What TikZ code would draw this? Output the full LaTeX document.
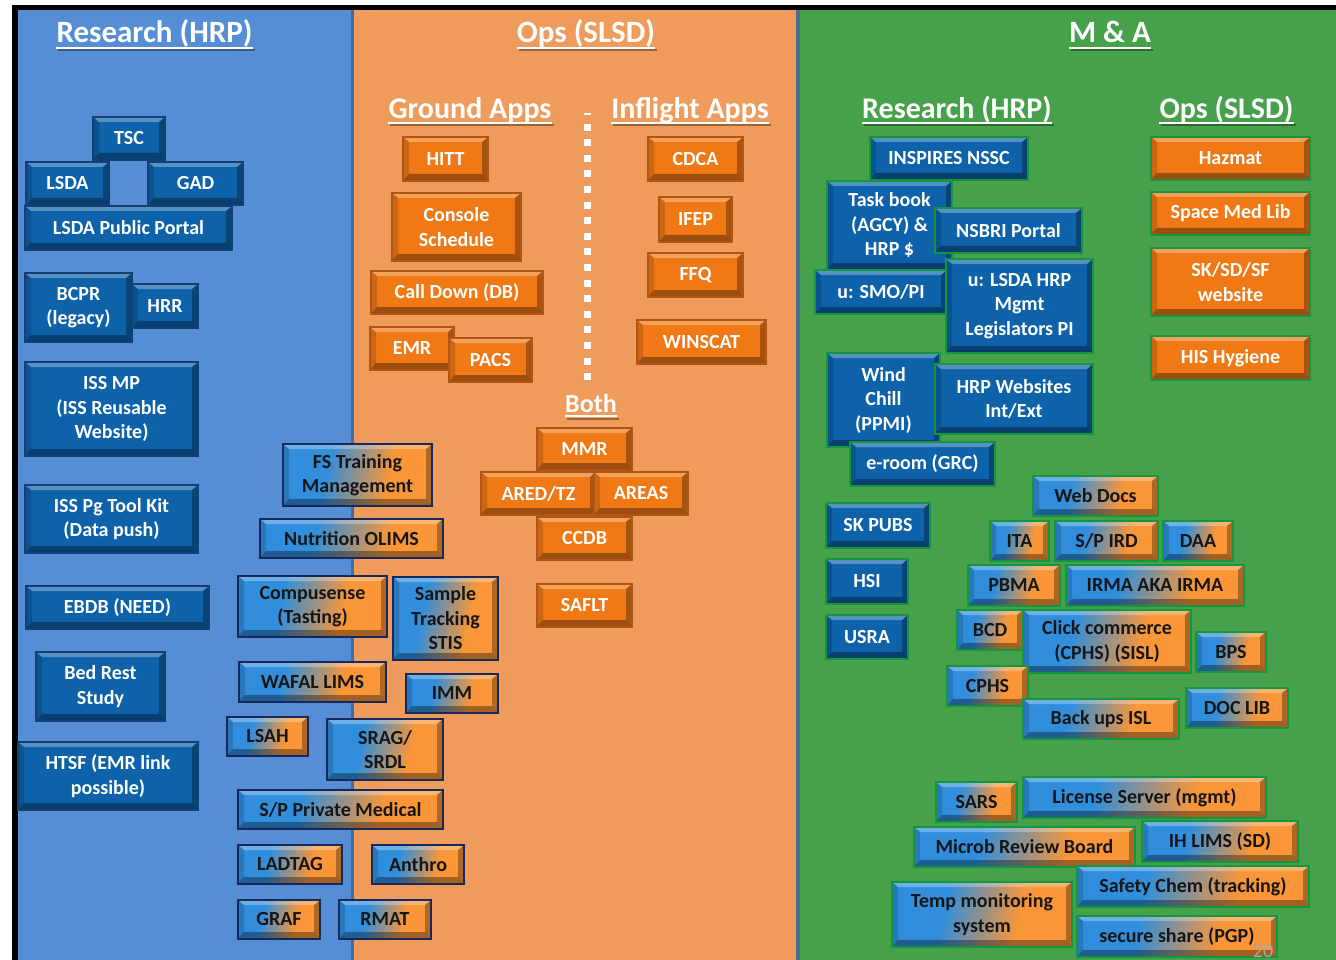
\documentclass[tikz,border=0pt]{standalone}
\usepackage{fontspec}
\setmainfont{Carlito}

\definecolor{panelblue}{RGB}{85,142,213}
\definecolor{panelorange}{RGB}{238,155,92}
\definecolor{panelgreen}{RGB}{71,160,74}
\definecolor{sepblue}{RGB}{58,110,168}
\definecolor{sepgrey}{RGB}{74,108,150}
\definecolor{boxblue}{RGB}{13,98,170}
\definecolor{boxorange}{RGB}{240,121,22}
\definecolor{edgeblue}{RGB}{22,62,118}
\definecolor{edgeorange}{RGB}{178,84,20}
\definecolor{edgegreen}{RGB}{18,150,62}
\definecolor{navy}{RGB}{22,40,92}
\definecolor{gradblue}{RGB}{48,142,220}
\definecolor{gradorange}{RGB}{250,150,55}
\definecolor{darktext}{RGB}{22,22,22}

\pgfdeclarehorizontalshading{mixshade}{100bp}{color(0bp)=(gradblue); color(38bp)=(gradblue); color(62bp)=(gradorange); color(100bp)=(gradorange)}

\tikzset{
  bevel/.style={path picture={
    \fill[white,opacity=.30] (path picture bounding box.north west) -- (path picture bounding box.north east)
      -- ([xshift=-6pt,yshift=-5pt]path picture bounding box.north east) -- ([xshift=6pt,yshift=-5pt]path picture bounding box.north west) -- cycle;
    \fill[black,opacity=.35] (path picture bounding box.south west) -- (path picture bounding box.south east)
      -- ([xshift=-6pt,yshift=7pt]path picture bounding box.south east) -- ([xshift=6pt,yshift=7pt]path picture bounding box.south west) -- cycle;
    \fill[black,opacity=.15] (path picture bounding box.north west) -- ([xshift=6pt,yshift=-5pt]path picture bounding box.north west)
      -- ([xshift=6pt,yshift=7pt]path picture bounding box.south west) -- (path picture bounding box.south west) -- cycle;
    \fill[black,opacity=.30] (path picture bounding box.north east) -- ([xshift=-6pt,yshift=-5pt]path picture bounding box.north east)
      -- ([xshift=-6pt,yshift=7pt]path picture bounding box.south east) -- (path picture bounding box.south east) -- cycle;
  }},
  wh/.style 2 args={minimum width=#1, minimum height=#2},
}

\begin{document}
\begin{tikzpicture}[x=1pt, y=-1pt,
    app/.style={rectangle, inner sep=1pt, align=center, line width=2pt, bevel, font=\bfseries\fontsize{20}{24.5}\selectfont},
    blueapp/.style={app, fill=boxblue, draw=#1, text=white},
    blueapp/.default=edgeblue,
    orangeapp/.style={app, fill=boxorange, draw=#1, text=white},
    orangeapp/.default=edgeorange,
    mixapp/.style={app, shade, shading=mixshade, shading angle=-12, draw=#1, text=darktext},
    mixapp/.default=navy,
    hdr/.style={text=white, inner sep=0pt, anchor=base, font=\bfseries\fontsize{31}{36}\selectfont},
    subhdr/.style={hdr, font=\bfseries\fontsize{30}{36}\selectfont}]
  \useasboundingbox (0,0) rectangle (1336,960);
  \fill[white] (0,0) rectangle (1336,960);

  % panels and frame
  \fill[panelblue] (18,10) rectangle (352,960);
  \fill[panelorange] (352,10) rectangle (797,960);
  \fill[panelgreen] (797,10) rectangle (1336,960);
  \fill[sepblue] (351,10) rectangle (354,960);
  \fill[sepgrey] (796,10) rectangle (800,960);
  \fill[black] (12,5) rectangle (1336,10);
  \fill[black] (12,5) rectangle (18,960);

  % headers
  \node[hdr] (hresearch) at (154.5,43) {Research (HRP)};
  \node[hdr] (hops) at (586,43) {Ops (SLSD)};
  \node[hdr] (hma) at (1110,43) {M \& A};
  \node[subhdr] (hground) at (470,119) {Ground Apps};
  \node[subhdr] (hinflight) at (690,119) {Inflight Apps};
  \node[subhdr] (hmaresearch) at (957,119) {Research (HRP)};
  \node[subhdr] (hmaops) at (1226.5,119) {Ops (SLSD)};
  \node[hdr, font=\bfseries\fontsize{26}{30}\selectfont] (hboth) at (591,412) {Both};
  \foreach \h/\d in {hresearch/5,hops/5,hma/5,hground/4,hinflight/4,hmaresearch/4,hmaops/4,hboth/4}{
    \draw[black,opacity=.35,line width=2pt] ([xshift=2pt,yshift=-\d pt-2.5pt]\h.base west) -- ([xshift=2pt,yshift=-\d pt-2.5pt]\h.base east);
    \draw[white,line width=1.8pt] ([yshift=-\d pt]\h.base west) -- ([yshift=-\d pt]\h.base east);
  }

  % ground / inflight divider
  \draw[white, line width=7pt, dash pattern=on 7pt off 8.6pt, dash phase=5pt] (587,113) -- (587,384);

  % research (HRP)
  \node[blueapp, wh={72}{43}] (tsc) at (129,138.5) {TSC};
  \node[blueapp, wh={83}{43}] (lsda) at (67.5,183.5) {LSDA};
  \node[blueapp, wh={95}{43}] (gad) at (195.5,183.5) {GAD};
  \node[blueapp, wh={207}{44}] (lsdaportal) at (128.5,228) {LSDA Public Portal};
  \node[blueapp, wh={66}{44}] (hrr) at (165,306) {HRR};
  \node[blueapp, wh={107}{69}] (bcpr) at (78.5,307.5) {BCPR\\(legacy)};
  \node[blueapp, wh={173}{94}] (issmp) at (111.5,409) {ISS MP\\(ISS Reusable\\Website)};
  \node[blueapp, wh={173}{68}] (isspg) at (111.5,519) {ISS Pg Tool Kit\\(Data push)};
  \node[blueapp, wh={183}{43}] (ebdb) at (117.5,607.5) {EBDB (NEED)};
  \node[blueapp, wh={129}{69}] (bedrest) at (100.5,686.5) {Bed Rest\\Study};
  \node[blueapp, wh={180}{68}] (htsf) at (108,776) {HTSF (EMR link\\possible)};

  % shared research / ops
  \node[mixapp, wh={149}{62}] (fstrain) at (357.5,475) {FS Training\\Management};
  \node[mixapp, wh={183}{39}] (olims) at (351.5,538.5) {Nutrition OLIMS};
  \node[mixapp, wh={149}{61}] (compusense) at (312.5,606.5) {Compusense\\(Tasting)};
  \node[mixapp, wh={105}{83}] (stis) at (445.5,618.5) {Sample\\Tracking\\STIS};
  \node[mixapp, wh={147}{40}] (wafal) at (312.5,682) {WAFAL LIMS};
  \node[mixapp, wh={92}{39}] (imm) at (452,693.5) {IMM};
  \node[mixapp, wh={81}{39}] (lsah) at (267.5,736.5) {LSAH};
  \node[mixapp, wh={116}{61}] (srag) at (385,749.5) {SRAG/\\SRDL};
  \node[mixapp, wh={205}{39}] (spmed) at (340.5,809.5) {S/P Private Medical};
  \node[mixapp, wh={104}{39}] (ladtag) at (290,864.5) {LADTAG};
  \node[mixapp, wh={92}{39}] (anthro) at (418,864.5) {Anthro};
  \node[mixapp, wh={82}{39}] (graf) at (279,919.5) {GRAF};
  \node[mixapp, wh={92}{39}] (rmat) at (385,919.5) {RMAT};

  % ops (SLSD)
  \node[orangeapp, wh={85}{44}] (hitt) at (445.5,159) {HITT};
  \node[orangeapp, wh={129}{68}] (console) at (456.5,227) {Console\\Schedule};
  \node[orangeapp, wh={172}{43}] (calldown) at (457,292.5) {Call Down (DB)};
  \node[orangeapp, wh={84}{43}] (emr) at (412,348.5) {EMR};
  \node[orangeapp, wh={83}{44}] (pacs) at (490.5,360) {PACS};
  \node[orangeapp, wh={95}{44}] (cdca) at (695.5,159) {CDCA};
  \node[orangeapp, wh={73}{45}] (ifep) at (695.5,219.5) {IFEP};
  \node[orangeapp, wh={95}{44}] (ffq) at (695.5,275) {FFQ};
  \node[orangeapp, wh={129}{44}] (winscat) at (701.5,342) {WINSCAT};
  \node[orangeapp, wh={95}{42}] (mmr) at (584.5,449) {MMR};
  \node[orangeapp, wh={115}{43}] (ared) at (538.5,493.5) {ARED/TZ};
  \node[orangeapp, wh={94}{43}] (areas) at (641,493.5) {AREAS};
  \node[orangeapp, wh={95}{43}] (ccdb) at (584.5,538.5) {CCDB};
  \node[orangeapp, wh={95}{43}] (saflt) at (584.5,605.5) {SAFLT};

  % M & A research
  \node[blueapp=edgegreen, wh={158}{43}] (inspires) at (949,158.5) {INSPIRES NSSC};
  \node[blueapp=edgegreen, wh={125}{89}] (taskbook) at (889.5,225.5) {Task book\\(AGCY) \&\\HRP \$};
  \node[blueapp=edgegreen, wh={147}{45}] (nsbri) at (1008.5,230.5) {NSBRI Portal};
  \node[blueapp=edgegreen, wh={132}{44}] (smopi) at (881,292) {u: SMO/PI};
  \node[blueapp=edgegreen, wh={147}{94}] (lsdahrp) at (1019.5,306) {u: LSDA HRP\\Mgmt\\Legislators PI};
  \node[blueapp=edgegreen, wh={113}{94}] (windchill) at (883.5,400) {Wind\\Chill\\(PPMI)};
  \node[blueapp=edgegreen, wh={158}{70}] (hrpweb) at (1014,399) {HRP Websites\\Int/Ext};
  \node[blueapp=edgegreen, wh={145}{44}] (eroom) at (922.5,464) {e-room (GRC)};
  \node[blueapp=edgegreen, wh={104}{45}] (skpubs) at (878,525.5) {SK PUBS};
  \node[blueapp=edgegreen, wh={82}{45}] (hsi) at (867,581.5) {HSI};
  \node[blueapp=edgegreen, wh={82}{44}] (usra) at (867,637) {USRA};

  % M & A ops
  \node[orangeapp=edgegreen, wh={159}{43}] (hazmat) at (1230.5,158.5) {Hazmat};
  \node[orangeapp=edgegreen, wh={159}{43}] (spacemed) at (1230.5,213.5) {Space Med Lib};
  \node[orangeapp=edgegreen, wh={159}{68}] (sksdsf) at (1230.5,282) {SK/SD/SF\\website};
  \node[orangeapp=edgegreen, wh={159}{44}] (hishyg) at (1230.5,358) {HIS Hygiene};

  % M & A shared
  \node[mixapp=edgegreen, wh={125}{40}] (webdocs) at (1095.5,496) {Web Docs};
  \node[mixapp=edgegreen, wh={59}{40}] (ita) at (1019.5,541) {ITA};
  \node[mixapp=edgegreen, wh={103}{40}] (spird) at (1106.5,541) {S/P IRD};
  \node[mixapp=edgegreen, wh={70}{40}] (daa) at (1198,541) {DAA};
  \node[mixapp=edgegreen, wh={92}{41}] (pbma) at (1014,585.5) {PBMA};
  \node[mixapp=edgegreen, wh={178}{41}] (irma) at (1155,585.5) {IRMA AKA IRMA};
  \node[mixapp=edgegreen, wh={66}{40}] (bcd) at (990,630) {BCD};
  \node[mixapp=edgegreen, wh={168}{63}] (click) at (1107,641.5) {Click commerce\\(CPHS) (SISL)};
  \node[mixapp=edgegreen, wh={70}{40}] (bps) at (1231,652) {BPS};
  \node[mixapp=edgegreen, wh={81}{40}] (cphs) at (987.5,686) {CPHS};
  \node[mixapp=edgegreen, wh={156}{40}] (backups) at (1101,719) {Back ups ISL};
  \node[mixapp=edgegreen, wh={102}{40}] (doclib) at (1237,708) {DOC LIB};
  \node[mixapp=edgegreen, wh={81}{40}] (sars) at (976.5,802) {SARS};
  \node[mixapp=edgegreen, wh={243}{41}] (license) at (1144.5,797.5) {License Server (mgmt)};
  \node[mixapp=edgegreen, wh={221}{40}] (microb) at (1024.5,847) {Microb Review Board};
  \node[mixapp=edgegreen, wh={156}{41}] (ihlims) at (1220,841.5) {IH LIMS (SD)};
  \node[mixapp=edgegreen, wh={232}{41}] (safety) at (1193,886.5) {Safety Chem (tracking)};
  \node[mixapp=edgegreen, wh={180}{65}] (temp) at (982,914.5) {Temp monitoring\\system};
  \node[mixapp=edgegreen, wh={200}{41}] (secure) at (1177,936.5) {secure share (PGP)};

  \node[text=black!35, font=\fontsize{20}{24}\selectfont] (pagenum) at (1263,951) {20};
\end{tikzpicture}
\end{document}
